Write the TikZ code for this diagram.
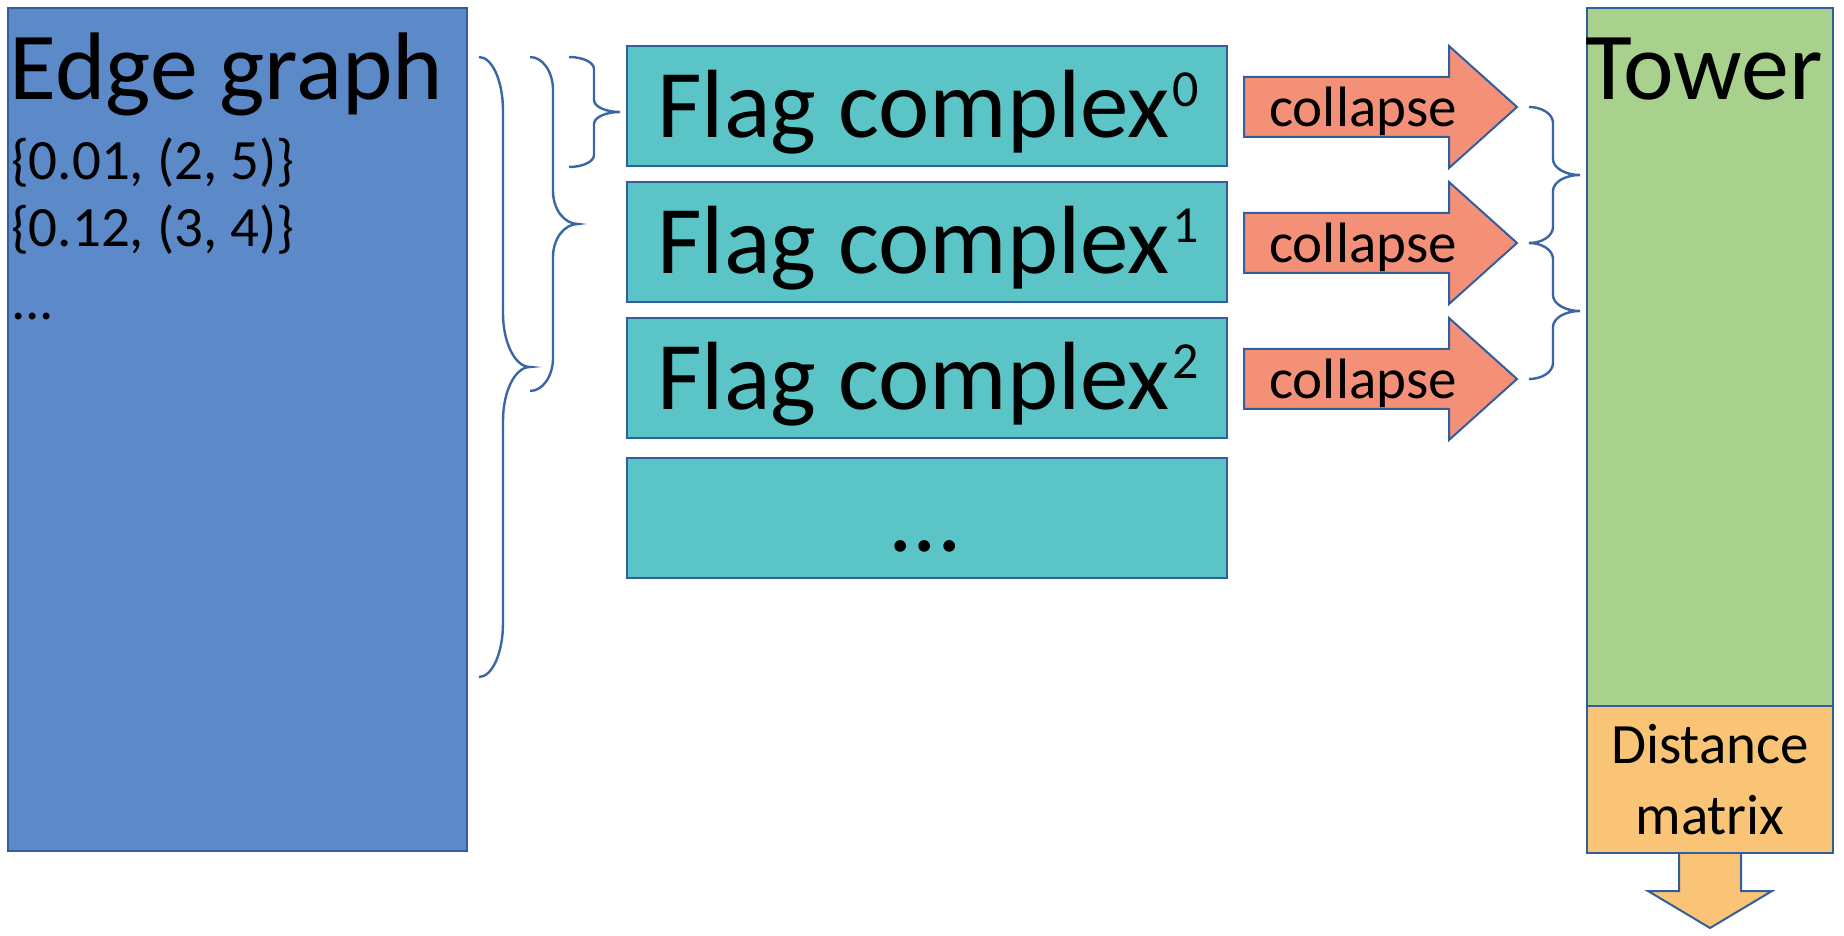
\documentclass[tikz,border=0pt]{standalone}
\usepackage{fontspec}
\setmainfont{Carlito}
\definecolor{egfill}{RGB}{92,137,199}
\definecolor{outl}{RGB}{50,94,160}
\definecolor{flagfill}{RGB}{91,196,199}
\definecolor{colfill}{RGB}{244,144,120}
\definecolor{towfill}{RGB}{169,209,142}
\definecolor{distfill}{RGB}{250,196,118}
\definecolor{bracecol}{RGB}{58,102,168}
\newcommand\mybrace[6]{%
  \pgfmathsetmacro\bym{(#4+#5)/2}%
  \pgfmathsetmacro\bka{0.5523}%
  \draw[bracestyle] (#1,#4) .. controls ({#1+\bka*(#2-#1)},#4) and (#2,{#4+#6-\bka*#6}) .. (#2,{#4+#6})
    -- (#2,{\bym-#6}) .. controls (#2,{\bym-#6+\bka*#6}) and ({#3-\bka*(#3-#2)},\bym) .. (#3,\bym)
    .. controls ({#3-\bka*(#3-#2)},\bym) and (#2,{\bym+#6-\bka*#6}) .. (#2,{\bym+#6})
    -- (#2,{#5-#6}) .. controls (#2,{#5-#6+\bka*#6}) and ({#1+\bka*(#2-#1)},#5) .. (#1,#5);}
\newcommand\bigfont{\fontsize{48}{58}\selectfont}
\newcommand\flagfont{\fontsize{48.5}{58}\selectfont}
\newcommand\smallfont{\fontsize{28.5}{34}\selectfont}
\newcommand\supnum[1]{{\fontsize{26}{26}\selectfont\kern1.5pt\raisebox{15.5pt}{#1}}}
\tikzset{
  box/.style={draw=outl, line width=1pt, inner sep=0pt, outer sep=0pt},
  flagbox/.style={box, fill=flagfill, minimum width=300pt, minimum height=60pt},
  arrowshape/.style={draw=outl, line width=1pt, line join=miter},
  bracestyle/.style={draw=bracecol, line width=1.2pt},
  txt/.style={inner sep=0pt, outer sep=0pt, text=black},
}
\begin{document}
\begin{tikzpicture}[x=0.5pt, y=-0.5pt]
\useasboundingbox (0,0) rectangle (1844,936);
\fill[white] (0,0) rectangle (1844,936);

% Edge graph
\node[box, fill=egfill, minimum width=229.5pt, minimum height=421.5pt] (eg) at (237.5,429.5) {};
\node[txt, anchor=base west] (egt) at (10,100) {\bigfont Edge graph};
\node[txt, anchor=base west] (eg1) at (11,180) {\smallfont \{0.01, (2, 5)\}};
\node[txt, anchor=base west] (eg2) at (11,247) {\smallfont \{0.12, (3, 4)\}};
\node[txt, anchor=base west] (eg3) at (11,320) {\smallfont ...};

% braces left
\mybrace{479}{503}{530}{57}{677}{54}
\mybrace{530}{553}{578}{57}{391}{33}
\mybrace{569}{594}{620}{57}{167}{12}

% flag boxes
\node[flagbox] (f0) at (927,106.5) {};
\node[flagbox] (f1) at (927,242) {};
\node[flagbox] (f2) at (927,378) {};
\node[flagbox] (f3) at (927,518) {};
\node[txt, anchor=base] (f0t) at (928,138) {\flagfont Flag complex\supnum{0}};
\node[txt, anchor=base] (f1t) at (928,273.5) {\flagfont Flag complex\supnum{1}};
\node[txt, anchor=base] (f2t) at (928,409.5) {\flagfont Flag complex\supnum{2}};
\node[txt, anchor=base] (f3t) at (925,552) {\flagfont ...};

% collapse arrows
\foreach \yc/\nm in {107/c0, 243/c1, 379/c2}{
  \draw[arrowshape, fill=colfill] (1244,\yc-30) -- (1449,\yc-30) -- (1449,\yc-61) -- (1517,\yc)
     -- (1449,\yc+61) -- (1449,\yc+30) -- (1244,\yc+30) -- cycle;
  \node[txt, anchor=base] (\nm) at (1363,\yc+20) {\smallfont collapse};
}

% braces right
\mybrace{1529}{1553}{1580}{107}{243}{16}
\mybrace{1529}{1553}{1580}{243}{379}{16}

% bottom arrow
\draw[arrowshape, fill=distfill] (1679,850) -- (1741,850) -- (1741,891) -- (1772,891) -- (1710,928)
   -- (1648,891) -- (1679,891) -- cycle;

% Tower and distance matrix
\node[box, fill=towfill, minimum width=123pt, minimum height=349pt] (tw) at (1710,357) {};
\node[box, fill=distfill, minimum width=123pt, minimum height=73.5pt] (dm) at (1710,779.5) {};
\node[txt, anchor=base west] (twt) at (1585,100) {\bigfont Tower};
\node[txt, anchor=base] (dm1) at (1710,763) {\smallfont Distance};
\node[txt, anchor=base] (dm2) at (1710,834) {\smallfont matrix};
\end{tikzpicture}
\end{document}
